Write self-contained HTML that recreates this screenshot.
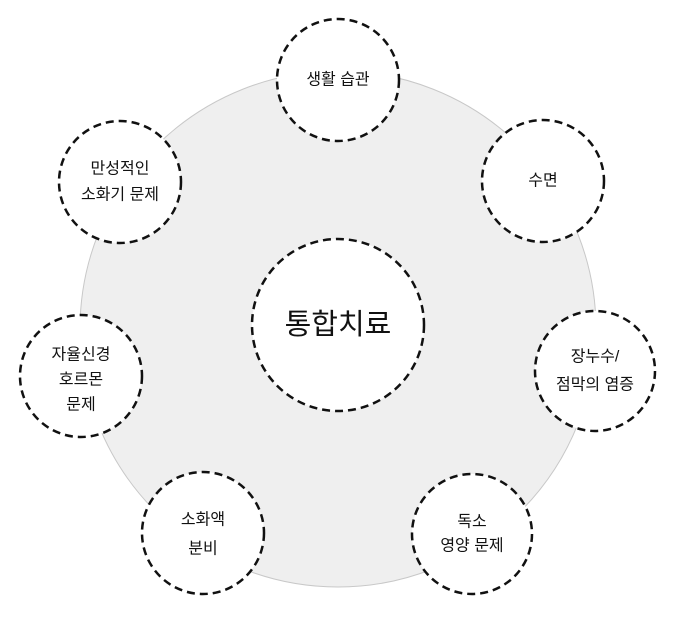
<!DOCTYPE html>
<html><head><meta charset="utf-8"><style>
html,body{margin:0;padding:0;background:#fff;}
svg{display:block;}
text{font-family:"Liberation Sans","Noto Sans CJK KR",sans-serif;fill:#111;text-anchor:middle;dominant-baseline:central;}
</style></head><body>
<svg width="680" height="634" viewBox="0 0 680 634">
<circle cx="338" cy="329" r="258" fill="#efefef" stroke="#c8c8c8" stroke-width="1"/>
<g fill="#fff" stroke="#111" stroke-width="2.5" stroke-dasharray="8,5">
<circle cx="338" cy="325" r="86"/>
<circle cx="338" cy="80" r="61"/>
<circle cx="543" cy="181" r="61"/>
<circle cx="595" cy="371" r="60"/>
<circle cx="472" cy="534" r="60"/>
<circle cx="203" cy="533" r="61"/>
<circle cx="81" cy="376" r="61"/>
<circle cx="120" cy="182" r="61"/>
</g>
<text x="338" y="325" font-size="29">통합치료</text>
<text x="338" y="80" font-size="16">생활 습관</text>
<text x="543" y="181" font-size="16">수면</text>
<text x="595" y="357" font-size="16">장누수/</text>
<text x="595" y="385" font-size="16">점막의 염증</text>
<text x="472" y="522" font-size="16">독소</text>
<text x="472" y="546" font-size="16">영양 문제</text>
<text x="203" y="520" font-size="16">소화액</text>
<text x="203" y="549" font-size="16">분비</text>
<text x="81" y="355" font-size="16">자율신경</text>
<text x="81" y="380" font-size="16">호르몬</text>
<text x="81" y="405" font-size="16">문제</text>
<text x="120" y="169" font-size="16">만성적인</text>
<text x="120" y="195" font-size="16">소화기 문제</text>
</svg>
</body></html>
